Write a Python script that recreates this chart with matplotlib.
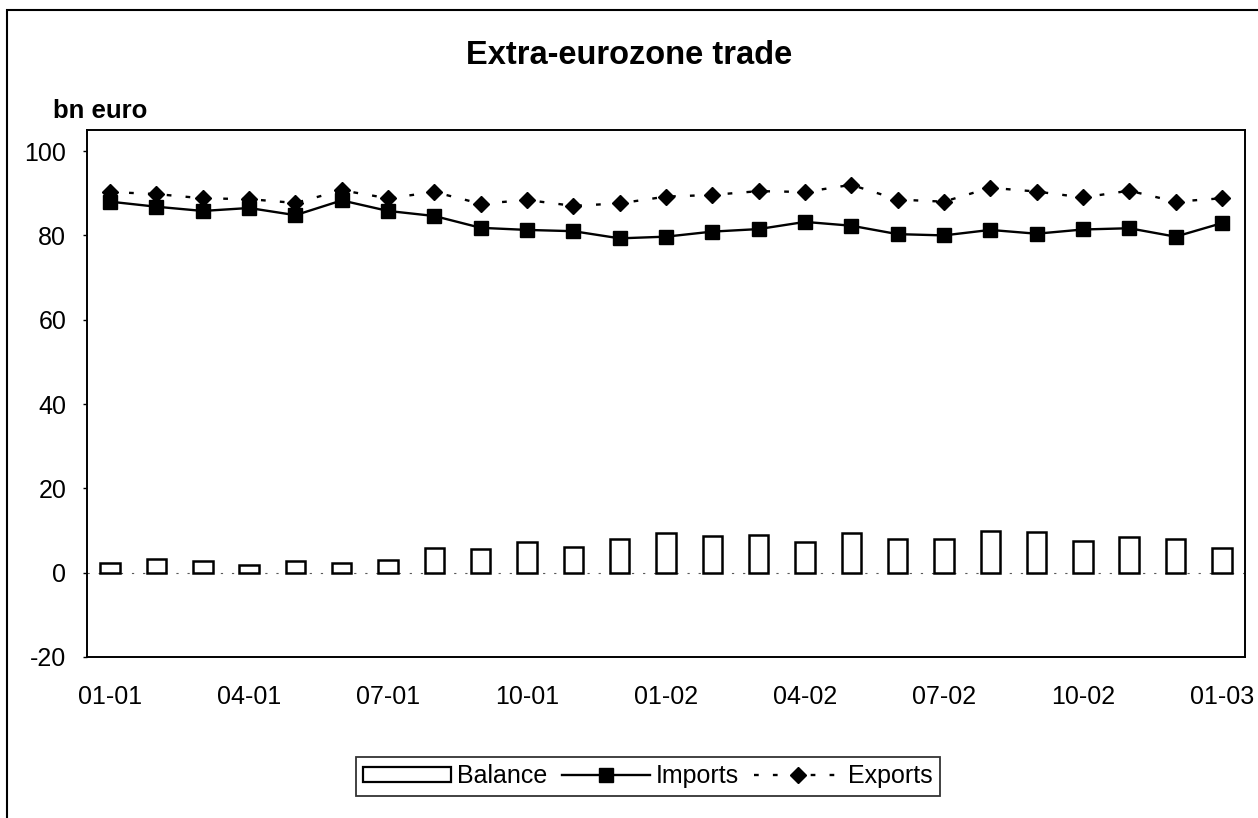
import numpy as np
import matplotlib
matplotlib.use('Agg')
import matplotlib.pyplot as plt
from matplotlib.patches import Rectangle, Patch
from matplotlib.lines import Line2D

plt.rcParams['font.family'] = ['Liberation Sans', 'DejaVu Sans']
plt.rcParams['axes.unicode_minus'] = False

# monthly data, 01-01 .. 01-03 (bn euro)
months = ['01-01', '02-01', '03-01', '04-01', '05-01', '06-01', '07-01', '08-01', '09-01',
          '10-01', '11-01', '12-01', '01-02', '02-02', '03-02', '04-02', '05-02', '06-02',
          '07-02', '08-02', '09-02', '10-02', '11-02', '12-02', '01-03']
balance = [2.3, 3.3, 2.8, 1.8, 2.8, 2.3, 3.1, 5.8, 5.5, 7.3, 6.2, 8.0, 9.3,
           8.8, 8.9, 7.2, 9.5, 7.9, 8.0, 10.0, 9.7, 7.4, 8.5, 7.9, 5.9]
imports = [88.0, 86.8, 85.8, 86.5, 84.8, 88.3, 85.8, 84.6, 81.8, 81.3, 81.0, 79.3, 79.7,
           80.9, 81.5, 83.2, 82.3, 80.3, 80.0, 81.3, 80.4, 81.4, 81.7, 79.7, 82.9]
exports = [90.3, 89.8, 88.8, 88.6, 87.7, 90.7, 88.8, 90.3, 87.5, 88.4, 87.0, 87.6, 89.2,
           89.6, 90.5, 90.3, 92.0, 88.5, 88.0, 91.3, 90.4, 89.0, 90.6, 88.0, 88.8]
yticks = [-20, 0, 20, 40, 60, 80, 100]

W, H = 1258, 818
fig = plt.figure(figsize=(W / 100, H / 100), dpi=100)
ax = fig.add_axes([87 / W, 1 - 657 / H, (1245 - 87) / W, (657 - 130) / H])

x = np.arange(len(months))
dotted = (0, (2, 6))
ax.bar(x, balance, width=0.42, facecolor='white', edgecolor='black', linewidth=1.8, zorder=2)
ax.plot(x, imports, color='black', lw=1.7, marker='s', markersize=10, zorder=3)
ax.plot(x, exports, color='black', lw=1.7, ls=dotted, marker='D', markersize=8.5, zorder=3)

# category axis sits at zero
ax.axhline(0, color='0.35', lw=0.8, ls=(0, (2, 8)), zorder=1)

ax.set_xlim(-0.5, len(months) - 0.5)
ax.set_ylim(-20, 105)
ax.set_yticks(yticks)
ax.set_xticks(x[::3])
ax.set_xticklabels(months[::3])
ax.tick_params(axis='y', length=3, width=1, pad=12, labelsize=18)
ax.tick_params(axis='x', length=0, pad=20, labelsize=18)
for s in ax.spines.values():
    s.set_linewidth(1.4)

fig.text(629 / W, 1 - 55 / H, 'Extra-eurozone trade', ha='center', va='center',
         fontsize=23.5, fontweight='bold')
fig.text(53 / W, 1 - 111 / H, 'bn euro', ha='left', va='center', fontsize=18.5, fontweight='bold')

# outer frame of the scanned page
fig.patches.append(Rectangle((7 / W, -0.05), 1.1, 1 - 10 / H + 0.05, transform=fig.transFigure,
                             fill=False, edgecolor='black', lw=1.5))

handles = [Patch(facecolor='white', edgecolor='black', linewidth=1.6),
           Line2D([], [], color='black', lw=1.7, marker='s', markersize=10),
           Line2D([], [], color='black', lw=1.7, ls=dotted, marker='D', markersize=8.5)]
leg = fig.legend(handles, ['Balance', 'Imports', 'Exports'], loc='center',
                 bbox_to_anchor=(648 / W, 1 - 776 / H), ncol=3, fontsize=18,
                 frameon=True, fancybox=False, edgecolor='black', handlelength=3.5,
                 handletextpad=0.25, columnspacing=0.6, borderpad=0.3, handleheight=0.55)
leg.get_frame().set_linewidth(1.3)

fig.savefig('out.png', dpi=100)
